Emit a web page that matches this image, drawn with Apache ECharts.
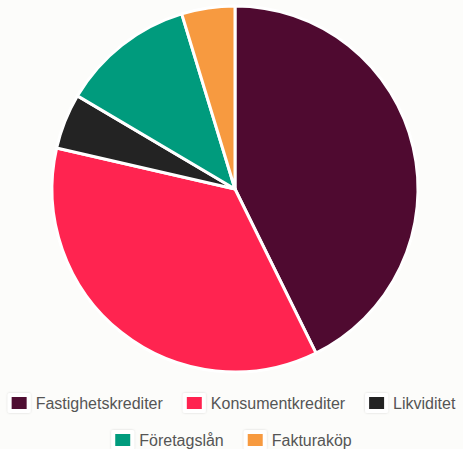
<!DOCTYPE html>
<html>
<head>
<meta charset="utf-8">
<script src="https://cdn.jsdelivr.net/npm/echarts@6/dist/echarts.min.js"></script>
<style>
  html, body { margin: 0; padding: 0; background: #fcfcfa; }
  #main { width: 463px; height: 449px; }
</style>
</head>
<body>
<div id="main"></div>
<script>
const categories = ['Fastighetskrediter', 'Konsumentkrediter', 'Likviditet', 'Företagslån', 'Fakturaköp'];
const values = [42.7, 35.9, 4.9, 11.8, 4.7];
const colors = ['#4f0a30', '#ff2450', '#232323', '#009b7d', '#f79a40'];

// legend rows, each centred on its own
const legendRows = [categories.slice(0, 3), categories.slice(3)];
const legendTops = [388, 425];

const myChart = echarts.init(document.getElementById('main'), null, { renderer: 'svg' });

const option = {
	backgroundColor: '#fcfcfa',
	color: colors,
	legend: legendRows.map((row, i) => ({
		data: row,
		top: legendTops[i],
		left: 'center',
		itemWidth: 19,
		itemHeight: 16,
		itemGap: 20,
		icon: 'rect',
		itemStyle: {
			borderColor: '#fff',
			borderWidth: 4,
			shadowBlur: 2,
			shadowColor: 'rgba(0,0,0,0.15)'
		},
		textStyle: {
			fontFamily: 'Liberation Sans, Arial, sans-serif',
			fontSize: 16,
			color: '#555',
			padding: [0, 0, 0, 2]
		}
	})),
	series: [
		{
			type: 'pie',
			center: [235, 189],
			radius: [0, 183],
			startAngle: 90,
			clockwise: true,
			label: { show: false },
			labelLine: { show: false },
			itemStyle: {
				borderColor: '#fff',
				borderWidth: 3
			},
			emphasis: { disabled: true },
			data: categories.map((name, i) => ({ name, value: values[i] }))
		}
	],
	animation: false
};

myChart.setOption(option);
</script>
</body>
</html>
